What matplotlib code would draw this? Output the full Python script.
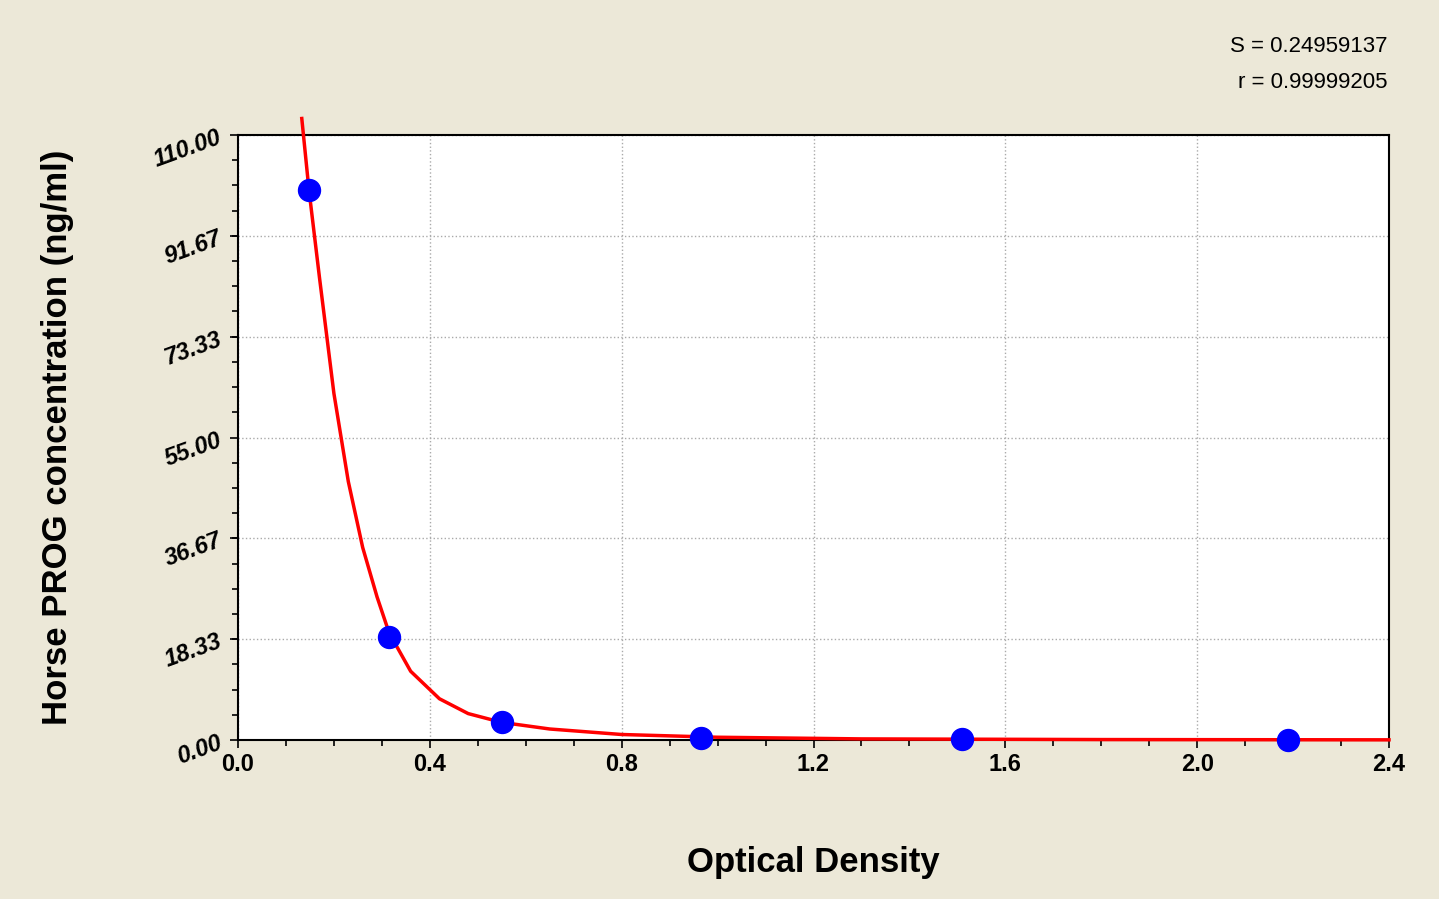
import matplotlib
matplotlib.use("Agg")
import matplotlib.pyplot as plt
from matplotlib.ticker import MultipleLocator

plt.rcParams['font.family'] = ['Liberation Sans', 'DejaVu Sans']

od = [0.148, 0.315, 0.55, 0.965, 1.51, 2.19]
conc = [100.0, 18.7, 3.3, 0.4, 0.1, 0.05]
curve_x = [0.133, 0.148, 0.17, 0.2, 0.23, 0.26, 0.29, 0.315, 0.36, 0.42, 0.48, 0.55, 0.65, 0.8, 1.0, 1.3, 1.8, 2.4]
curve_y = [113.0, 100.0, 84.0, 63.0, 47.0, 35.0, 26.0, 19.5, 12.5, 7.5, 4.8, 3.2, 2.0, 1.0, 0.5, 0.2, 0.08, 0.03]
yticks = [0.0, 18.33, 36.67, 55.0, 73.33, 91.67, 110.0]
xticks = [0.0, 0.4, 0.8, 1.2, 1.6, 2.0, 2.4]

bg = "#ECE8D8"
fig = plt.figure(figsize=(14.39, 8.99), dpi=100, facecolor=bg)
ax = fig.add_axes([238/1439, 1-740/899, 1151/1439, 605/899])
ax.set_facecolor("white")
ax.set_xlim(0, 2.4)
ax.set_ylim(0, 110)
ax.set_xticks(xticks)
ax.set_xticklabels([f"{v:.1f}" for v in xticks], fontsize=17, fontweight="bold")
ax.set_yticks(yticks)
ax.set_yticklabels([f"{v:.2f}" for v in yticks], fontsize=17, fontweight="bold",
                   rotation=20, style="italic")
ax.xaxis.set_minor_locator(MultipleLocator(0.1))
ax.yaxis.set_minor_locator(MultipleLocator(110/24))
ax.tick_params(which="both", direction="out", length=6, width=1.2)
ax.tick_params(which="minor", length=4)
ax.grid(True, which="major", color="#AAAAAA", linestyle=":", linewidth=1)
for s in ax.spines.values():
    s.set_linewidth(1.5)
ax.plot(curve_x, curve_y, color="red", linewidth=2.5, clip_on=False, zorder=3)
ax.scatter(od, conc, s=250, color="blue", zorder=4, clip_on=False)
ax.set_xlabel("Optical Density", fontsize=25, fontweight="bold", labelpad=50)
ax.set_ylabel("Horse PROG concentration (ng/ml)", fontsize=25, fontweight="bold", labelpad=55)
fig.text(1387/1439, 1-46/899, "S = 0.24959137", ha="right", va="center", fontsize=16)
fig.text(1387/1439, 1-83/899, "r = 0.99999205", ha="right", va="center", fontsize=16)
fig.savefig("out.png", dpi=100, facecolor=bg)
